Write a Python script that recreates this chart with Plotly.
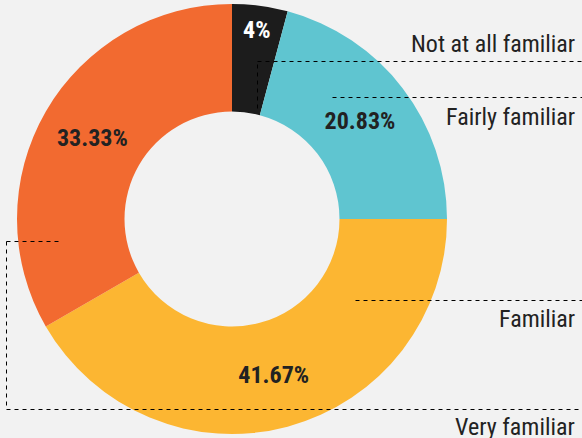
import plotly.graph_objects as go

categories = ["Not at all familiar", "Fairly familiar", "Familiar", "Very familiar"]
values = [4.17, 20.83, 41.67, 33.33]
text_labels = ["4%", "20.83%", "41.67%", "33.33%"]
colors = ["#1c1c1c", "#5fc5d0", "#fcb632", "#f26a30"]
text_colors = ["#ffffff", "#222222", "#222222", "#222222"]

W, H = 582, 438
BG = "#f2f2f2"
LABEL_FONT = "Liberation Sans Narrow, Roboto Condensed, Roboto, sans-serif"

fig = go.Figure(go.Pie(
    labels=categories,
    values=values,
    text=text_labels,
    textinfo="text",
    sort=False,
    direction="clockwise",
    rotation=0,
    hole=0.5,
    marker=dict(colors=colors, line=dict(width=0)),
    textposition="inside",
    insidetextorientation="horizontal",
    textfont=dict(family=LABEL_FONT, size=24, color=text_colors, weight="bold"),
    showlegend=False,
    domain=dict(x=[17 / W, 447 / W], y=[0, 1]),
))

def px(x):
    return (x + 0.5) / W

def py(y):
    return 1 - (y + 0.5) / H

dash = dict(color="#000000", width=1, dash="4px,4px")
segments = [
    ((257, 108), (257, 61)), ((257, 61), (582, 61)),
    ((332, 97), (582, 97)),
    ((355, 300), (582, 300)),
    ((58, 241), (6, 241)), ((6, 241), (6, 409)), ((6, 409), (582, 409)),
]
shapes = [dict(type="line", xref="paper", yref="paper",
               x0=px(a[0]), y0=py(a[1]), x1=px(b[0]), y1=py(b[1]), line=dash)
          for a, b in segments]

label_y = [44, 117, 319, 427]
annotations = [dict(text=c, xref="paper", yref="paper", x=577 / W, y=1 - yy / H,
                    xanchor="right", yanchor="middle", showarrow=False,
                    font=dict(family=LABEL_FONT, size=24, color="#222222"))
               for c, yy in zip(categories, label_y)]

fig.update_layout(
    width=W, height=H,
    margin=dict(l=0, r=0, t=0, b=0),
    paper_bgcolor=BG, plot_bgcolor=BG,
    shapes=shapes, annotations=annotations,
)

fig.write_html("out.html")
